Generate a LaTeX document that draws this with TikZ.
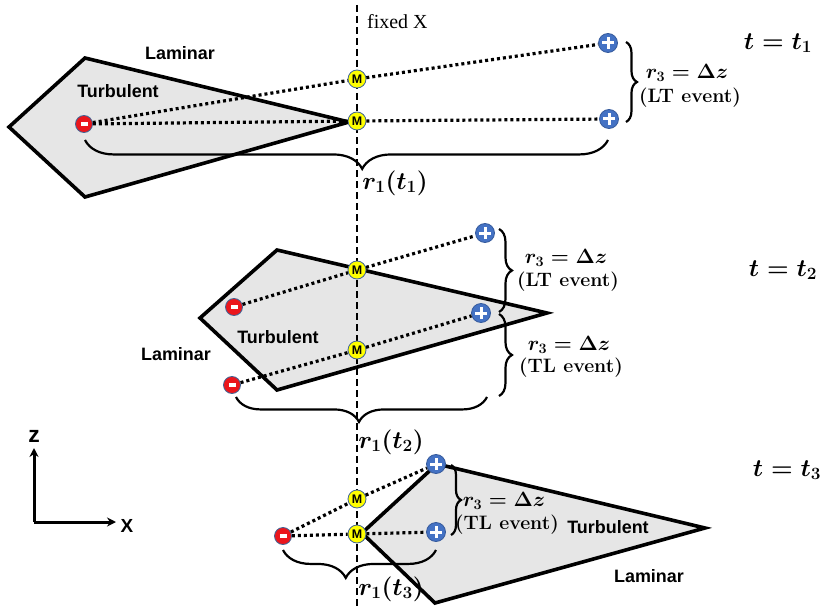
\documentclass[tikz,border=0pt]{standalone}
\usepackage{amsmath}
\usepackage{fontspec}
\setsansfont{Liberation Sans}
\newfontfamily\labelserif{Liberation Serif}
\usetikzlibrary{decorations.pathreplacing,arrows.meta}
\definecolor{regionfill}{RGB}{230,230,230}
\definecolor{negred}{RGB}{235,22,28}
\definecolor{posblue}{RGB}{68,114,196}
\definecolor{midyellow}{RGB}{255,255,0}
\definecolor{rimblue}{RGB}{65,100,150}
\tikzset{
  region/.style={fill=regionfill, draw=black, line width=3.6bp, line join=miter},
  fixedline/.style={line width=2.2bp, dash pattern=on 7bp off 4bp},
  dotline/.style={line width=3.2bp, dash pattern=on 3bp off 3bp},
  negpt/.style={circle, minimum size=17bp, inner sep=0pt, fill=negred, draw=rimblue, line width=0.8bp,
    path picture={\fill[white] ([shift={(-3.5bp,-1.8bp)}]path picture bounding box.center) rectangle ([shift={(3.5bp,1.8bp)}]path picture bounding box.center);}},
  pospt/.style={circle, minimum size=19bp, inner sep=0pt, fill=posblue, draw=posblue!80!black, line width=0.8bp,
    path picture={\draw[white, line width=3bp]
      ([xshift=-6bp]path picture bounding box.center) -- ([xshift=6bp]path picture bounding box.center)
      ([yshift=-6bp]path picture bounding box.center) -- ([yshift=6bp]path picture bounding box.center);}},
  midpt/.style={circle, minimum size=18bp, inner sep=0pt, fill=midyellow, draw=rimblue, line width=0.8bp,
    font=\sffamily\bfseries\fontsize{12.5}{12}\selectfont},
  flowlab/.style={font=\sffamily\bfseries\fontsize{18}{20}\selectfont, inner sep=0pt},
  evlab/.style={font=\bfseries\fontsize{19.5}{20}\selectfont, inner sep=0pt},
  mathlab/.style={font=\fontsize{21}{23}\selectfont\boldmath, inner sep=0pt},
  seplab/.style={font=\fontsize{23}{25}\selectfont\boldmath, inner sep=0pt},
  timelab/.style={font=\fontsize{25}{28}\selectfont\boldmath, inner sep=0pt},
  bracel/.style={line width=2.2bp, decorate, decoration={brace, amplitude=#1}},
  axisarrow/.style={line width=3bp, -{Stealth[length=9bp,width=9bp]}},
}
\begin{document}
\begin{tikzpicture}[x=1bp, y=-1bp]
\useasboundingbox (0,0) rectangle (823,606);

% flow regions
\draw[region] (9,127) -- (85,58) -- (349,122) -- (85,197) -- cycle;
\draw[region] (200,318) -- (277,250) -- (547,313) -- (277,390) -- cycle;
\draw[region] (362,533) -- (437,464) -- (705,528) -- (435,603) -- cycle;

% fixed streamwise position
\coordinate (fxtop) at (357,5);
\coordinate (fxbot) at (357,606);
\draw[fixedline] (fxtop) -- (fxbot);
\node[font=\labelserif\fontsize{20}{22}\selectfont, anchor=west, inner sep=0pt] (fixedx) at (367,22) {fixed X};

% points, t = t1
\node[negpt] (a1) at (84,124) {};
\node[midpt] (am1) at (357,79) {M};
\node[midpt] (am2) at (357,121) {M};
\node[pospt] (ap1) at (608,43) {};
\node[pospt] (ap2) at (609,119) {};

% points, t = t2
\node[negpt] (b1) at (234,307) {};
\node[negpt] (b2) at (232,385) {};
\node[midpt] (bm1) at (357,270) {M};
\node[midpt] (bm2) at (357,350) {M};
\node[pospt] (bp1) at (485,233) {};
\node[pospt] (bp2) at (481,313) {};

% points, t = t3
\node[negpt] (c1) at (283,536) {};
\node[midpt] (cm1) at (357,499) {M};
\node[midpt] (cm2) at (357,534) {M};
\node[pospt] (cp1) at (436,464) {};
\node[pospt] (cp2) at (436,532) {};

% separation lines
\draw[dotline] (a1) -- (am1) -- (ap1);
\draw[dotline] (a1) -- (am2) -- (ap2);
\draw[dotline] (b1) -- (bm1) -- (bp1);
\draw[dotline] (b2) -- (bm2) -- (bp2);
\draw[dotline] (c1) -- (cm1) -- (cp1);
\draw[dotline] (c1) -- (cm2) -- (cp2);

% braces, t = t1
\draw[bracel=29, decoration={aspect=0.47}] (608,140) -- (85,140);
\draw[bracel=11] (626,42) -- (626,122);
% braces, t = t2
\draw[bracel=25, decoration={aspect=0.51}] (487,397) -- (236,397);
\draw[bracel=13] (499,229) -- (499,312);
\draw[bracel=13] (499,314) -- (499,396);
% braces, t = t3
\draw[bracel=28, decoration={aspect=0.59}] (436,550) -- (283,550);
\draw[bracel=10] (451,465) -- (451,535);

% region labels
\node[flowlab] (lam1) at (180,53) {Laminar};
\node[flowlab] (tur1) at (118,91) {Turbulent};
\node[flowlab] (lam2) at (176,354) {Laminar};
\node[flowlab] (tur2) at (278,337) {Turbulent};
\node[flowlab] (tur3) at (608,527) {Turbulent};
\node[flowlab] (lam3) at (649,576) {Laminar};

% separation labels
\node[seplab] (r1a) at (395,183) {$r_1(t_1)$};
\node[seplab] (r1b) at (391,442) {$r_1(t_2)$};
\node[seplab] (r1c) at (391,589) {$r_1(t_3)$};
\node[mathlab] (r3a) at (687,73) {$r_3 = \Delta z$};
\node[evlab] (eva) at (690,98) {(LT event)};
\node[mathlab] (r3b) at (566,258) {$r_3 = \Delta z$};
\node[evlab] (evb) at (568,282) {(LT event)};
\node[mathlab] (r3c) at (569,345) {$r_3 = \Delta z$};
\node[evlab] (evc) at (571,368) {(TL event)};
\node[mathlab] (r3d) at (504,501) {$r_3 = \Delta z$};
\node[evlab] (evd) at (507,525) {(TL event)};

% time labels
\node[timelab] (ta) at (778,43) {$t = t_1$};
\node[timelab] (tb) at (783,270) {$t = t_2$};
\node[timelab] (tc) at (787,470) {$t = t_3$};

% axes
\coordinate (orig) at (34,522);
\coordinate (zend) at (34,448);
\coordinate (xend) at (116,522);
\draw[axisarrow] (orig) -- (zend);
\draw[axisarrow] (orig) -- (xend);
\node[font=\sffamily\bfseries\fontsize{23}{24}\selectfont, inner sep=0pt] (zl) at (34,436) {z};
\node[font=\sffamily\bfseries\fontsize{19}{20}\selectfont, inner sep=0pt] (xl) at (127,526) {X};
\end{tikzpicture}
\end{document}
